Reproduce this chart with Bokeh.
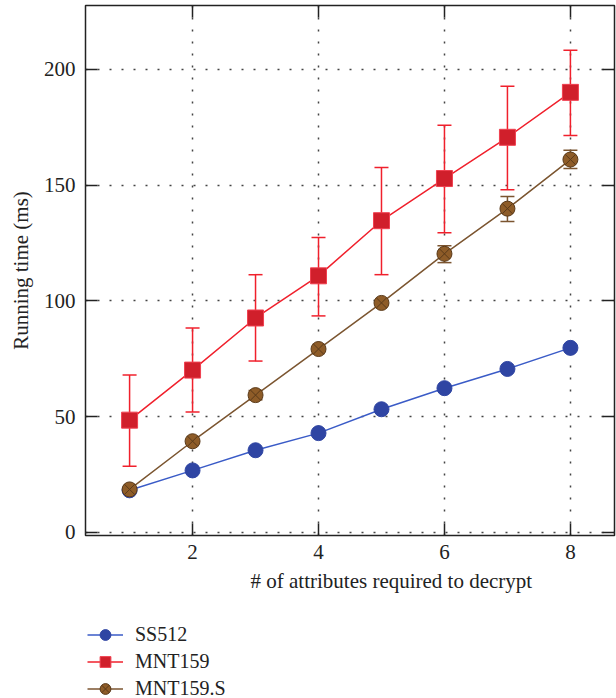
from bokeh.plotting import figure
from bokeh.layouts import column
from bokeh.models import (Range1d, LinearAxis, FixedTicker, Whisker, TeeHead,
                          ColumnDataSource, Legend, LegendItem, Title)
from bokeh.embed import file_html
from bokeh.resources import INLINE

# ---- data ----
attrs = [1, 2, 3, 4, 5, 6, 7, 8]
ss512 = [18.2, 26.8, 35.5, 42.9, 53.2, 62.3, 70.6, 79.7]
mnt159 = [48.5, 70.1, 92.6, 110.8, 134.6, 152.8, 170.6, 190.0]
mnt159_lo = [28.6, 52.0, 74.0, 93.5, 111.3, 129.4, 148.0, 171.4]
mnt159_hi = [68.0, 88.3, 111.3, 127.3, 157.6, 175.8, 192.6, 208.2]
mnt159s = [18.6, 39.4, 59.3, 79.2, 99.1, 120.3, 139.8, 161.0]
mnt159s_lo = [17.8, 38.6, 57.3, 78.2, 98.3, 116.5, 134.2, 157.1]
mnt159s_hi = [19.4, 40.2, 61.3, 80.2, 99.9, 123.8, 145.0, 165.0]
x_ticks = [2, 4, 6, 8]
y_ticks = [0, 50, 100, 150, 200]
series_names = ["SS512", "MNT159", "MNT159.S"]

FONT = "Liberation Serif"
BLUE_L, BLUE_M = "#3A5BC7", "#2F45A3"
RED_L, RED_M = "#F0202C", "#D01F2B"
BRN_L, BRN_M = "#7B5530", "#8E5C28"

p = figure(width=616, height=610, output_backend="svg", toolbar_location=None,
           x_range=Range1d(0.3, 8.7), y_range=Range1d(-1.3, 227.5),
           min_border_left=85, min_border_right=2, min_border_top=5,
           min_border_bottom=75, background_fill_color="white",
           border_fill_color="white")

p.outline_line_color = "#222222"
p.outline_line_width = 1.5

def style_axis(ax, ticks, show_labels):
    ax.axis_line_color = None
    ax.major_tick_in = 12
    ax.major_tick_out = 0
    ax.minor_tick_line_color = None
    ax.major_tick_line_color = "#222222"
    ax.major_tick_line_width = 1.5
    ax.major_label_text_font = FONT
    ax.major_label_text_color = "#222222"
    if show_labels:
        ax.major_label_text_font_size = "21px"
    else:
        ax.major_label_text_font_size = "1px"
        ax.major_label_standoff = 0
        ax.major_label_overrides = {t: "" for t in ticks}

p.xaxis.ticker = FixedTicker(ticks=x_ticks)
p.yaxis.ticker = FixedTicker(ticks=y_ticks)
style_axis(p.xaxis[0], x_ticks, True)
style_axis(p.yaxis[0], y_ticks, True)
p.xaxis.major_label_standoff = 9
p.yaxis.major_label_standoff = 10
p.yaxis.axis_label = "Running time (ms)"
p.yaxis.axis_label_text_font = FONT
p.yaxis.axis_label_text_font_size = "21px"
p.yaxis.axis_label_text_font_style = "normal"
p.yaxis.axis_label_text_color = "#222222"
p.yaxis.axis_label_standoff = 8

top = LinearAxis(ticker=FixedTicker(ticks=x_ticks))
style_axis(top, x_ticks, False)
p.add_layout(top, "above")
right = LinearAxis(ticker=FixedTicker(ticks=y_ticks))
style_axis(right, y_ticks, False)
p.add_layout(right, "right")

p.grid.grid_line_color = "#444444"
p.grid.grid_line_dash = "2 10"
p.grid.grid_line_width = 1.5
p.xgrid.ticker = FixedTicker(ticks=x_ticks)
p.ygrid.ticker = FixedTicker(ticks=y_ticks)

# x axis label (shifted right like in the reference)
p.add_layout(Title(text="# of attributes required to decrypt", align="left",
                   offset=165, text_font=FONT, text_font_size="21px",
                   text_font_style="normal", text_color="#222222",
                   standoff=11), "below")

# ---- series ----
src_m = ColumnDataSource(dict(x=attrs, lo=mnt159_lo, hi=mnt159_hi))
src_s = ColumnDataSource(dict(x=attrs, lo=mnt159s_lo, hi=mnt159s_hi))

p.add_layout(Whisker(source=src_m, base="x", lower="lo", upper="hi",
                     line_color=RED_L, line_width=1.5,
                     lower_head=TeeHead(size=14, line_color=RED_L, line_width=1.5),
                     upper_head=TeeHead(size=14, line_color=RED_L, line_width=1.5)))
p.add_layout(Whisker(source=src_s, base="x", lower="lo", upper="hi",
                     line_color=BRN_L, line_width=1.5,
                     lower_head=TeeHead(size=14, line_color=BRN_L, line_width=1.5),
                     upper_head=TeeHead(size=14, line_color=BRN_L, line_width=1.5)))

def draw_series(fig, xs, ys, lc, mc, marker, size, mlc):
    ln = fig.line(xs, ys, line_color=lc, line_width=1.5)
    mk = fig.scatter(xs, ys, marker=marker, size=size, fill_color=mc,
                     line_color=mlc, line_width=1)
    return ln, mk

styles = [(BLUE_L, BLUE_M, "circle", 15, BLUE_M),
          (RED_L, RED_M, "square", 16, "#F04050"),
          (BRN_L, BRN_M, "circle_x", 15, "#5A3A1A")]
all_series = [ss512, mnt159, mnt159s]
for ys, st in zip(all_series, styles):
    draw_series(p, attrs, ys, *st)

# ---- legend strip below the plot (series drawn out of view, legend only) ----
q = figure(width=616, height=88, output_backend="svg", toolbar_location=None,
           min_border=0, x_axis_type=None, y_axis_type=None,
           x_range=Range1d(100, 101), y_range=Range1d(1000, 1001),
           background_fill_color="white", border_fill_color="white")
q.grid.visible = False
q.outline_line_color = None
items = []
for name, ys, st in zip(series_names, all_series, styles):
    ln, mk = draw_series(q, attrs, ys, *st)
    items.append(LegendItem(label=name, renderers=[ln, mk]))
legend = Legend(items=items, location=(2, -4), orientation="vertical",
                border_line_color=None, background_fill_alpha=0,
                padding=0, margin=0, spacing=0, glyph_width=36,
                glyph_height=27, label_height=20, label_standoff=12,
                label_text_font=FONT, label_text_font_size="20px",
                label_text_color="#222222")
q.add_layout(legend, "center")

layout = column(p, q, spacing=0)
open("out.html", "w").write(file_html(layout, INLINE))
